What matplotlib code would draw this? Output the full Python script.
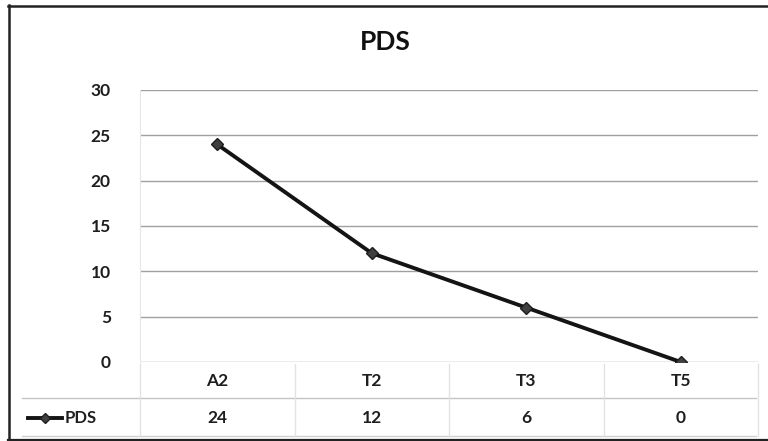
import matplotlib.pyplot as plt
from matplotlib.lines import Line2D

categories = ['A2', 'T2', 'T3', 'T5']
pds = [24, 12, 6, 0]
y_ticks = [0, 5, 10, 15, 20, 25, 30]
series_name = 'PDS'

W, H = 768, 441


def fx(px):
    return px / W


def fy(py):
    return 1 - py / H


def hline(fig, x0, x1, py, color, lw):
    fig.add_artist(Line2D([fx(x0), fx(x1)], [fy(py), fy(py)],
                          transform=fig.transFigure, color=color, linewidth=lw))


def main():
    plt.rcParams['font.family'] = ['Lato', 'DejaVu Sans']
    fig = plt.figure(figsize=(7.68, 4.41), dpi=100)
    fig.patch.set_facecolor('white')

    # outer frame (right side is cut off in the scan)
    hline(fig, 8, 768, 5.5, '#222222', 1.8)
    hline(fig, 8, 768, 439.5, '#222222', 1.6)
    fig.add_artist(Line2D([fx(8.5), fx(8.5)], [fy(5), fy(440)],
                          transform=fig.transFigure, color='#222222', linewidth=1.8))

    left, right, top, bottom = 140, 758, 90, 362
    ax = fig.add_axes([fx(left), fy(bottom), fx(right) - fx(left), fy(top) - fy(bottom)])
    x = list(range(len(categories)))
    ax.plot(x, pds, color='#141414', linewidth=2.8, marker='D', markersize=6.5,
            markerfacecolor='#404040', markeredgecolor='#1e1e1e', zorder=3)

    ax.set_xlim(-0.5, len(categories) - 0.5)
    ax.set_ylim(0, 30)
    ax.set_yticks(y_ticks)
    ax.set_yticklabels([str(v) for v in y_ticks], fontsize=12.5, fontweight='bold', color='#1e1e1e')
    ax.tick_params(axis='y', length=0, pad=21)
    ax.yaxis.grid(True, color='#a0a0a0', linewidth=1.0)
    ax.set_axisbelow(True)
    for s in ['top', 'right', 'bottom']:
        ax.spines[s].set_visible(False)
    ax.spines['left'].set_color('#e6e6e6')

    ax.set_xticks(x)
    ax.set_xticklabels(categories, fontsize=12.5, fontweight='bold', color='#1e1e1e')
    ax.tick_params(axis='x', length=0, pad=8)

    fig.text(fx(385), fy(42), 'PDS', ha='center', va='center', fontsize=19,
             fontweight='bold', color='#111111')

    # data table below the axis
    hline(fig, 22, 756, 398, '#c4c4c4', 1.0)
    hline(fig, 22, 756, 436, '#d0d0d0', 1.0)
    for i in range(len(categories) + 1):
        xb = ax.transData.transform((i - 0.5, 0))[0] / fig.bbox.width
        fig.add_artist(Line2D([xb, xb], [fy(364), fy(436)],
                              transform=fig.transFigure, color='#e2e2e2', linewidth=1.0))
    for i, v in enumerate(pds):
        xc = ax.transData.transform((i, 0))[0] / fig.bbox.width
        fig.text(xc, fy(418), str(v), ha='center', va='center', fontsize=12.5,
                 fontweight='bold', color='#1e1e1e')

    hline(fig, 28, 62, 418, '#141414', 2.8)
    fig.add_artist(Line2D([fx(45)], [fy(418)], transform=fig.transFigure, marker='D',
                          markersize=5.5, markerfacecolor='#404040', markeredgecolor='#1e1e1e',
                          linestyle='none'))
    fig.text(fx(65), fy(418), series_name, ha='left', va='center', fontsize=12,
             fontweight='bold', color='#1e1e1e')

    fig.savefig('out.png', dpi=100)


if __name__ == '__main__':
    main()
